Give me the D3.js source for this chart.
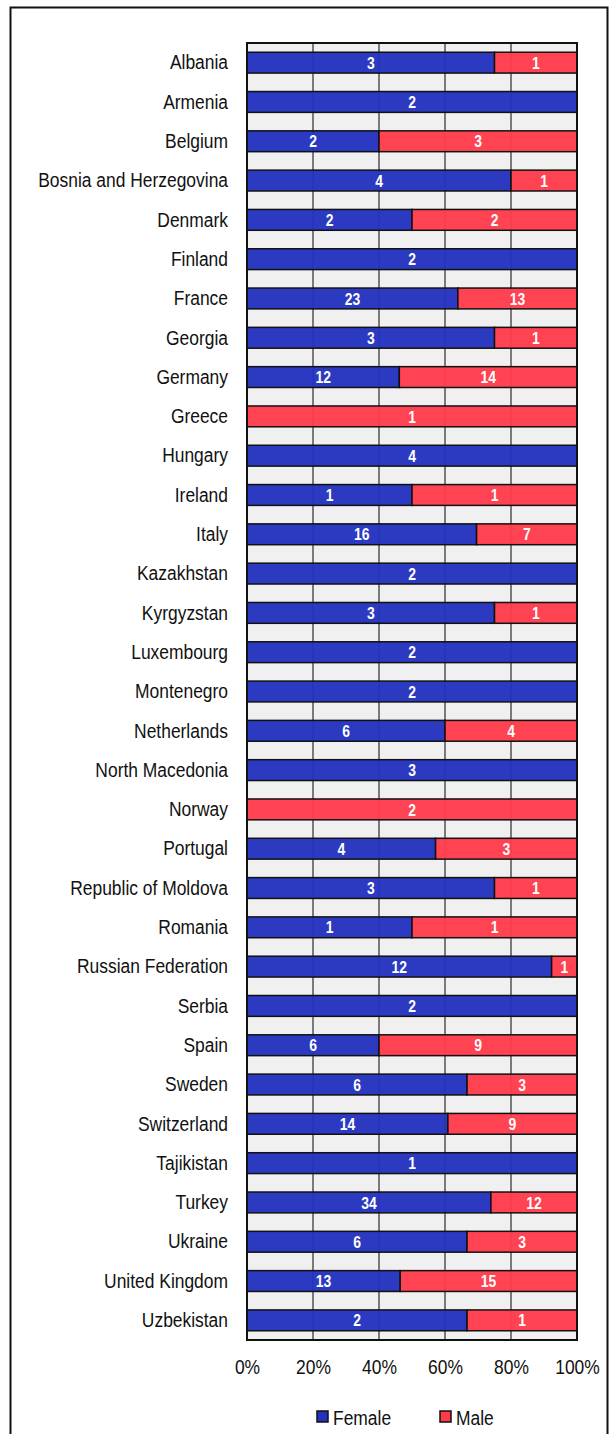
<!DOCTYPE html>
<html>
<head>
<meta charset="utf-8">
<script src="https://cdn.jsdelivr.net/npm/d3@7"></script>
<style>
  html, body { margin: 0; padding: 0; background: #fff; }
  svg { display: block; }
  text { font-family: "Liberation Sans", Arial, sans-serif; }
</style>
</head>
<body>
<svg id="chart" width="611" height="1434"></svg>
<script>
// Countries and counts of female / male persons per country
const countries = ["Albania","Armenia","Belgium","Bosnia and Herzegovina","Denmark","Finland","France","Georgia","Germany","Greece","Hungary","Ireland","Italy","Kazakhstan","Kyrgyzstan","Luxembourg","Montenegro","Netherlands","North Macedonia","Norway","Portugal","Republic of Moldova","Romania","Russian Federation","Serbia","Spain","Sweden","Switzerland","Tajikistan","Turkey","Ukraine","United Kingdom","Uzbekistan"];
const female = [3,2,2,4,2,2,23,3,12,0,4,1,16,2,3,2,2,6,3,0,4,3,1,12,2,6,6,14,1,34,6,13,2];
const male   = [1,0,3,1,2,0,13,1,14,1,0,1,7,0,1,0,0,4,0,2,3,1,1,1,0,9,3,9,0,12,3,15,1];
const seriesNames = ["Female","Male"];
const seriesColors = ["#2332BE","#FF3B4B"];
const tickValues = [0,0.2,0.4,0.6,0.8,1];

// Horizontal squeeze giving a condensed look to the sans-serif text
const narrow = 0.83;

const svg = d3.select("#chart");

// Outer frame
svg.append("path")
  .attr("d", "M10.5,1434 L10.5,7.5 L607.5,7.5 L607.5,1434")
  .attr("fill", "none").attr("stroke", "#111").attr("stroke-width", 2);

const plot = { left: 247, right: 577, top: 43, bottom: 1340 };

const rows = countries.map((c, i) => ({ country: c, female: female[i], male: male[i] }));
const stack = d3.stack().keys(["female","male"]).offset(d3.stackOffsetExpand);
const layers = stack(rows);

const x = d3.scaleLinear().domain([0, 1]).range([plot.left, plot.right]);
const y = d3.scaleBand().domain(countries).range([plot.top, plot.bottom]).paddingInner(0.47).paddingOuter(0.235);

// Plot background
svg.append("rect")
  .attr("x", plot.left).attr("y", plot.top)
  .attr("width", plot.right - plot.left).attr("height", plot.bottom - plot.top)
  .attr("fill", "#f0f0f0");

// Vertical gridlines
svg.append("g").selectAll("line")
  .data(tickValues.slice(1, -1))
  .join("line")
  .attr("x1", d => x(d)).attr("x2", d => x(d))
  .attr("y1", plot.top).attr("y2", plot.bottom)
  .attr("stroke", "#7a7a7a").attr("stroke-width", 2);

// Stacked bars
const barG = svg.append("g");
layers.forEach((layer, li) => {
  barG.append("g").selectAll("rect")
    .data(layer.filter(d => d[1] - d[0] > 0))
    .join("rect")
    .attr("x", d => x(d[0]))
    .attr("y", d => y(d.data.country))
    .attr("width", d => x(d[1]) - x(d[0]))
    .attr("height", y.bandwidth())
    .attr("fill", seriesColors[li])
    .attr("fill-opacity", 0.96)
    .attr("stroke", "#111").attr("stroke-width", 1.5);
});

// Value labels inside segments
layers.forEach((layer, li) => {
  const key = layer.key;
  barG.append("g").selectAll("text")
    .data(layer.filter(d => d.data[key] > 0))
    .join("text")
    .attr("transform", d => `translate(${(x(d[0]) + x(d[1])) / 2},${y(d.data.country) + y.bandwidth() / 2}) scale(0.82,1)`)
    .attr("dy", "0.36em")
    .attr("text-anchor", "middle")
    .attr("fill", "#fff")
    .attr("font-weight", "bold")
    .attr("font-size", 17)
    .text(d => d.data[key]);
});

// Plot border
svg.append("rect")
  .attr("x", plot.left).attr("y", plot.top)
  .attr("width", plot.right - plot.left).attr("height", plot.bottom - plot.top)
  .attr("fill", "none").attr("stroke", "#111").attr("stroke-width", 2);

// Category axis labels
const yPad = 19;
const yAxis = d3.axisLeft(y).tickSize(0).tickPadding(yPad);
const yg = svg.append("g").attr("transform", `translate(${plot.left},0)`).call(yAxis);
yg.select(".domain").remove();
yg.selectAll("text")
  .attr("font-size", 21).attr("fill", "#111")
  .attr("x", -yPad / narrow)
  .attr("transform", `scale(${narrow},1)`)
  .style("font-family", '"Liberation Sans", Arial, sans-serif');

// Percentage axis
const xAxis = d3.axisBottom(x).tickValues(tickValues).tickFormat(d3.format(".0%")).tickSize(0).tickPadding(19);
const xg = svg.append("g").attr("transform", `translate(0,${plot.bottom})`).call(xAxis);
xg.select(".domain").remove();
xg.selectAll("text")
  .attr("font-size", 21).attr("fill", "#111")
  .attr("transform", `scale(${narrow},1)`)
  .style("font-family", '"Liberation Sans", Arial, sans-serif');

// Legend
const legendPos = [317, 440];
const legend = svg.append("g");
seriesNames.forEach((name, i) => {
  const g = legend.append("g").attr("transform", `translate(${legendPos[i]},1411)`);
  g.append("rect").attr("width", 11).attr("height", 11)
    .attr("fill", seriesColors[i]).attr("stroke", "#111").attr("stroke-width", 1.5);
  g.append("text")
    .attr("transform", `translate(16,6) scale(${narrow},1)`)
    .attr("dy", "0.36em")
    .attr("font-size", 21).attr("fill", "#111").text(name);
});
</script>
</body>
</html>
